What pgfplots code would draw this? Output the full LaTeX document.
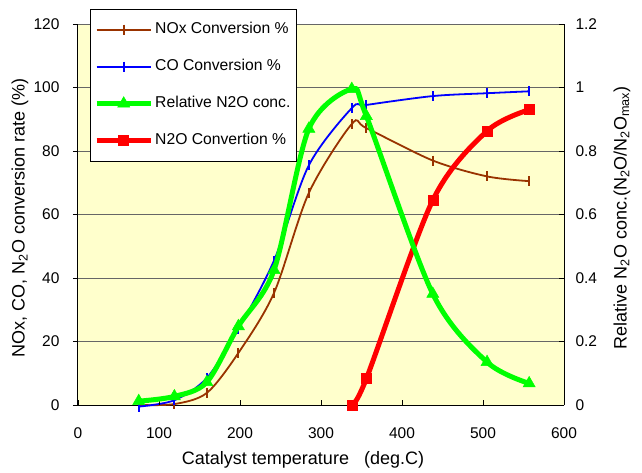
\documentclass[border=0pt]{standalone}
\usepackage{pgfplots}
\pgfplotsset{compat=1.18}
\usepackage{fontspec}
\setmainfont{Liberation Sans}
\definecolor{bgyellow}{RGB}{255,255,204}
\definecolor{noxbrown}{RGB}{153,51,0}
\definecolor{cblue}{RGB}{0,0,255}
\definecolor{cgreen}{RGB}{0,255,0}
\definecolor{cred}{RGB}{255,0,0}
\begin{document}
\begin{tikzpicture}
\useasboundingbox (-78pt,-67pt) rectangle (564pt,405pt);
\begin{axis}[
 at={(0,0)}, anchor=south west, scale only axis, width=486pt, height=381pt,
 xmin=0, xmax=600, ymin=0, ymax=120,
 xtick={0,100,...,600}, ytick={0,20,...,120},
 axis x line*=bottom, axis y line*=left,
 axis line style={black, line width=1pt},
 tick align=outside, major tick length=5pt,
 major x tick style={draw=none},
 major y tick style={black, line width=0.8pt},
 ymajorgrids, major grid style={black!60, line width=0.9pt},
 axis background/.style={fill=bgyellow},
 tick label style={font=\fontsize{15.5}{18}\selectfont},
 /pgf/number format/assume math mode=true,
 xticklabel style={yshift=-14pt},
 yticklabel style={xshift=-10pt},
 label style={font=\fontsize{18}{21}\selectfont},
 xlabel={Catalyst temperature \ \ (deg.C)},
 ylabel={NOx, CO, N\textsubscript{2}O conversion rate (\%)},
 xlabel style={at={(axis description cs:0.463,-0.1444)}, anchor=center},
 ylabel style={at={(axis description cs:-0.1193,0.491)}, anchor=center},
 clip=false,
]
\addplot[noxbrown, line width=1.8pt, smooth, tension=0.5, mark=|, mark size=5pt, mark options={line width=2pt}] table {
x y
75 0
119 0.3
159 3.8
198 16.4
242 35.3
285 66.8
338 88.5
356 87.2
438 77
505 72
557 70.5
};
\addplot[cblue, line width=1.8pt, smooth, tension=0.5, mark=|, mark size=5pt, mark options={line width=2pt}] table {
x y
75 -0.5
119 1.5
159 8.5
198 24
242 45.5
285 75.5
338 93.5
356 94.5
438 97.3
505 98.2
557 98.8
};
\addplot[cred, line width=5pt, smooth, tension=0.5, mark=square*, mark size=5pt, mark options={line width=0.5pt}] table {
x y
338 0
356 8.3
438 64.5
505 86.3
557 93
};
\end{axis}
\begin{axis}[
 at={(0,0)}, anchor=south west, scale only axis, width=486pt, height=381pt,
 xmin=0, xmax=600, ymin=0, ymax=1.2,
 xtick={0,100,...,600}, xticklabels={},
 ytick={0,0.2,0.4,0.6,0.8,1,1.2},
 axis x line*=bottom, axis y line*=right,
 x axis line style={draw=none}, y axis line style={black, line width=1pt},
 tick align=inside, major tick length=5pt,
 major tick style={black, line width=0.8pt},
 tick label style={font=\fontsize{15.5}{18}\selectfont},
 /pgf/number format/assume math mode=true,
 yticklabel style={xshift=8pt},
 label style={font=\fontsize{18}{21}\selectfont},
 ylabel={Relative N\textsubscript{2}O conc.(N\textsubscript{2}O/N\textsubscript{2}O\textsubscript{max})},
 ylabel style={at={(axis description cs:1.1193,0.491)}, anchor=center},
 clip=false,
 legend cell align=left,
 legend image code/.code={\draw[mark repeat=2,mark phase=2,#1] plot coordinates {(0pt,0pt) (27pt,0pt) (54pt,0pt)};},
 legend style={at={(rel axis cs:0,1)}, anchor=north west, xshift=12pt, yshift=15pt,
   draw=black, fill=white, font=\fontsize{15.7}{18}\selectfont,
   row sep=22pt, inner xsep=4pt, inner ysep=13pt,
   nodes={inner xsep=2pt, inner ysep=0pt, text height=11.5pt, text depth=3.5pt}},
]
\addlegendimage{noxbrown, line width=1.8pt, mark=|, mark size=5pt, mark options={line width=2pt}}
\addlegendentry{NOx Conversion \%}
\addlegendimage{cblue, line width=1.8pt, mark=|, mark size=5pt, mark options={line width=2pt}}
\addlegendentry{CO Conversion \%}
\addplot[cgreen, line width=5pt, smooth, tension=0.5, mark=triangle*, mark size=7pt, mark options={line width=0.5pt}] table {
x y
75 0.012
119 0.027
159 0.072
198 0.248
242 0.425
285 0.87
338 0.995
356 0.91
438 0.35
505 0.135
557 0.068
};
\addlegendentry{Relative N2O conc.}
\addlegendimage{cred, line width=5pt, mark=square*, mark size=5pt, mark options={line width=0.5pt}}
\addlegendentry{N2O Convertion \%}
\end{axis}
\end{tikzpicture}
\end{document}
